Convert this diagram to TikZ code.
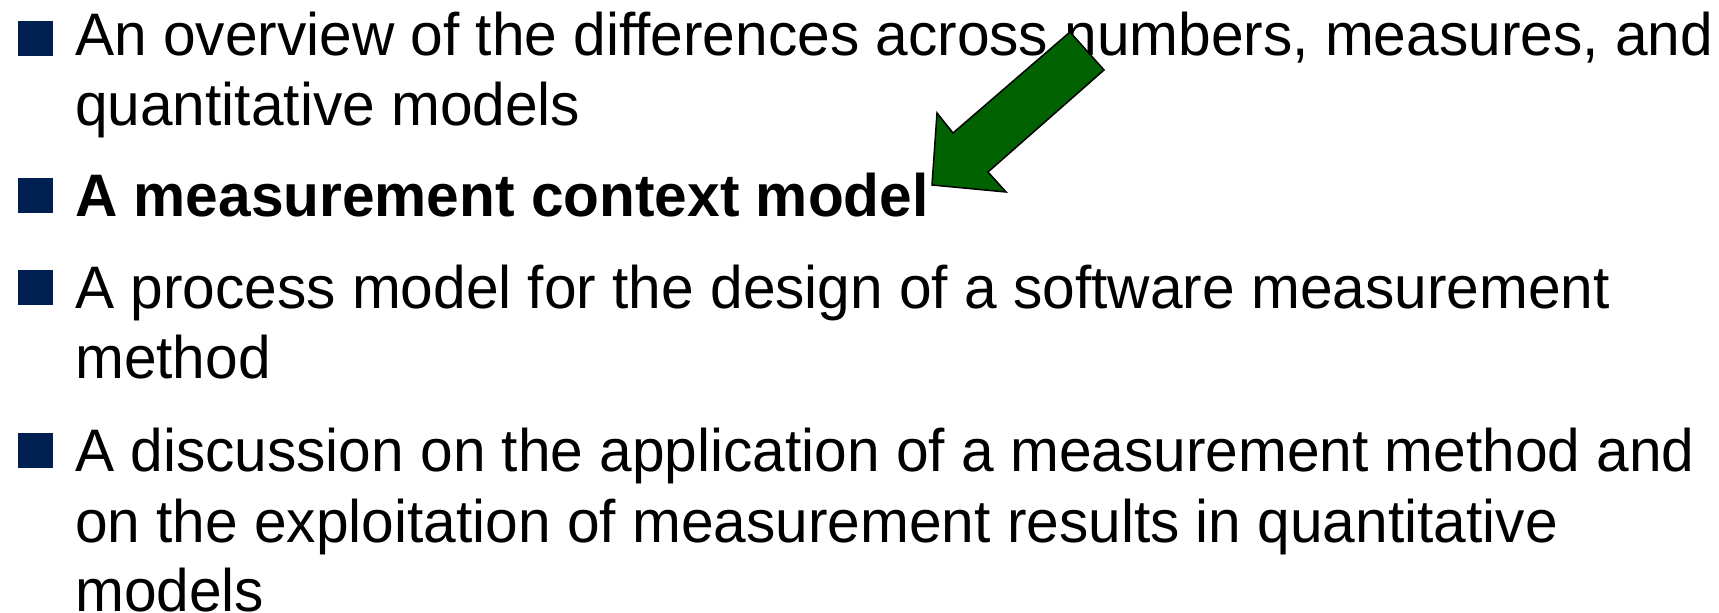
\documentclass[tikz,border=0pt]{standalone}
\usepackage{fontspec}
\setmainfont{Liberation Sans}[FakeStretch=0.977]
\definecolor{bulletnavy}{RGB}{0,32,82}
\definecolor{arrowgreen}{RGB}{0,98,0}
\begin{document}
\begin{tikzpicture}[x=1pt,y=1pt,
  txt/.style={anchor=base west,inner sep=0pt,font=\fontsize{60}{70}\selectfont},
  bullet/.style={fill=bulletnavy,draw=none,minimum size=35pt,inner sep=0pt,anchor=south west}]
\useasboundingbox (0,0) rectangle (1719,613);
% bullet squares (bottom edge 4pt above the first baseline)
\node[bullet] (b1) at (18,557) {};
\node[bullet] (b2) at (18,400) {};
\node[bullet] (b3) at (18,308) {};
\node[bullet] (b4) at (18,145) {};
% text lines, baselines measured from the top edge
\node[txt] (l1) at (75,557) {An overview of the differences across numbers, measures, and};
\node[txt] (l2) at (75,487) {quantitative models};
\node[txt] (l3) at (75,396) {\bfseries A measurement context model};
\node[txt] (l4) at (75,304) {A process model for the design of a software measurement};
\node[txt] (l5) at (75,234) {method};
\node[txt] (l6) at (75,141) {A discussion on the application of a measurement method and};
\node[txt] (l7) at (75,70) {on the exploitation of measurement results in quantitative};
\node[txt] (l8) at (75,1) {models};
% block arrow pointing at the highlighted item
\draw[fill=arrowgreen,draw=black,line width=1.5pt,line join=miter]
  (1070,581) -- (1104,543) -- (988,441) -- (1006,421) -- (932,428)
  -- (937,500) -- (953,480) -- cycle;
\end{tikzpicture}
\end{document}
